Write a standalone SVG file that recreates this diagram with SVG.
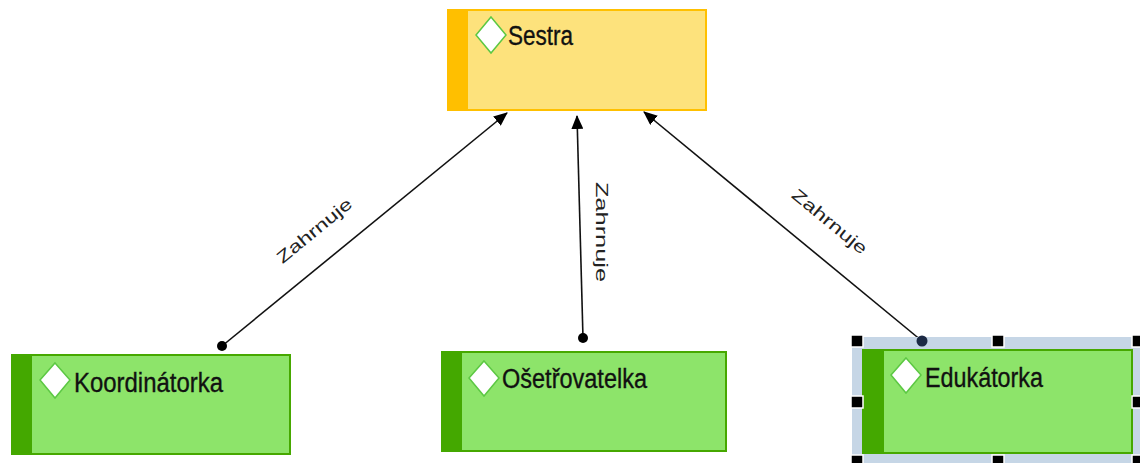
<svg xmlns="http://www.w3.org/2000/svg" width="1140" height="463" viewBox="0 0 1140 463">
<style>
.lbl{font-family:"Liberation Sans",Arial,sans-serif;font-size:27px;fill:#111;stroke:#111;stroke-width:0.35;}
.clbl{font-family:"Liberation Sans",Arial,sans-serif;font-size:17px;fill:#222;}
.y{fill:#fde27c;stroke:#ffc000;stroke-width:2;}
.ys{fill:#ffbf00;}
.g{fill:#8de46a;stroke:#46a800;stroke-width:2;}
.gs{fill:#44a800;}
.dia{fill:#fff;stroke:#5cc843;stroke-width:1.5;}
.con{stroke:#111;stroke-width:1.6;fill:none;}
.h{fill:#000;stroke:#fff;stroke-width:1.5;}
</style>
<defs>
<marker id="arr" markerWidth="14" markerHeight="12" refX="13" refY="6" orient="auto" markerUnits="userSpaceOnUse">
<path d="M0,0 L14,6 L0,12 Z" fill="#000"/>
</marker>
</defs>
<rect width="1140" height="463" fill="#fff"/>
<g id="connectors">
<line class="con" x1="222" y1="346" x2="507" y2="113" marker-end="url(#arr)"/>
<circle cx="222" cy="346" r="5" fill="#000"/>
<text class="clbl" transform="translate(318,235) rotate(-39.3)" text-anchor="middle" textLength="92" lengthAdjust="spacingAndGlyphs">Zahrnuje</text>
<line class="con" x1="583" y1="338" x2="577" y2="116" marker-end="url(#arr)"/>
<circle cx="583" cy="338" r="5" fill="#000"/>
<text class="clbl" transform="translate(596,232) rotate(90)" text-anchor="middle" textLength="100" lengthAdjust="spacingAndGlyphs">Zahrnuje</text>
<line class="con" x1="922" y1="341" x2="644" y2="112" marker-end="url(#arr)"/>
<text class="clbl" transform="translate(826,226) rotate(39.5)" text-anchor="middle" textLength="92" lengthAdjust="spacingAndGlyphs">Zahrnuje</text>
</g>
<g id="sestra">
<rect class="y" x="448" y="10" width="258" height="100"/>
<rect class="ys" x="447" y="9" width="21" height="102"/>
<path class="dia" d="M491,17 L506,35 L491,53 L476,35 Z"/>
<text class="lbl" x="508" y="45" textLength="65" lengthAdjust="spacingAndGlyphs">Sestra</text>
</g>
<g id="koordinatorka">
<rect class="g" x="12" y="355" width="278" height="99"/>
<rect class="gs" x="11" y="354" width="21" height="101"/>
<path class="dia" d="M55,363 L70,380 L55,398 L40,380 Z"/>
<text class="lbl" x="74" y="392" textLength="149" lengthAdjust="spacingAndGlyphs">Koordinátorka</text>
</g>
<g id="osetrovatelka">
<rect class="g" x="442" y="352" width="284" height="99"/>
<rect class="gs" x="441" y="351" width="21" height="101"/>
<path class="dia" d="M484,361 L499,378 L484,396 L469,378 Z"/>
<text class="lbl" x="502" y="388" textLength="145" lengthAdjust="spacingAndGlyphs">Ošetřovatelka</text>
</g>
<g id="edukatorka">
<rect x="852" y="337" width="290" height="128" fill="#c6d6e6"/>
<rect class="g" x="863" y="350" width="269" height="103"/>
<rect class="gs" x="862" y="349" width="22" height="105"/>
<path class="dia" d="M906,358 L921,375 L906,393 L891,375 Z"/>
<text class="lbl" x="925" y="387" textLength="118" lengthAdjust="spacingAndGlyphs">Edukátorka</text>
<rect class="h" x="851" y="335" width="12" height="12"/>
<rect class="h" x="992" y="335" width="12" height="12"/>
<rect class="h" x="1132" y="335" width="12" height="12"/>
<rect class="h" x="851" y="396" width="12" height="12"/>
<rect class="h" x="1132" y="396" width="12" height="12"/>
<rect class="h" x="851" y="455" width="12" height="12"/>
<rect class="h" x="992" y="455" width="12" height="12"/>
<rect class="h" x="1132" y="455" width="12" height="12"/>
</g>
<circle cx="922" cy="341" r="5.5" fill="#1c2a44"/>
</svg>
